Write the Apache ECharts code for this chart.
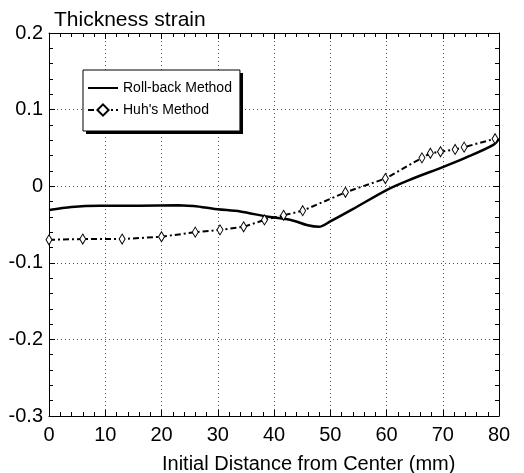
<!DOCTYPE html>
<html>
<head>
<meta charset="utf-8">
<script src="https://cdn.jsdelivr.net/npm/echarts@6/dist/echarts.min.js"></script>
<style>html,body{margin:0;padding:0;background:#fff}#c{width:524px;height:473px}</style>
</head>
<body>
<div id="c"></div>
<script>
const rollbackX = [0, 4, 9, 16, 23, 27, 30, 34, 39, 43, 46, 48, 50, 54, 60, 64, 70, 74, 79, 80];
const rollbackY = [-0.031, -0.027, -0.0255, -0.0255, -0.025, -0.027, -0.030, -0.033, -0.040, -0.044, -0.051, -0.053, -0.046, -0.030, -0.005, 0.008, 0.025, 0.037, 0.054, 0.062];
const huhX = [0, 6, 13, 20, 26, 30.4, 34.6, 38.3, 41.7, 45.1, 52.7, 59.8, 66.3, 67.8, 69.6, 72.2, 73.8, 79.3];
const huhY = [-0.070, -0.069, -0.069, -0.066, -0.060, -0.057, -0.053, -0.044, -0.038, -0.032, -0.008, 0.010, 0.037, 0.043, 0.045, 0.048, 0.051, 0.062];
const xTicks = [0, 10, 20, 30, 40, 50, 60, 70, 80];
const yTicks = [-0.3, -0.2, -0.1, 0, 0.1, 0.2];
const seriesNames = ['Roll-back Method', "Huh's Method"];
const titleText = 'Thickness strain';
const xName = 'Initial Distance from Center (mm)';

const FONT = '"Liberation Sans", Arial, sans-serif';
const pair = (xs, ys) => xs.map((x, i) => [x, ys[i]]);
const xMin = xTicks[0], xMax = xTicks[xTicks.length - 1];
const yMin = yTicks[0], yMax = yTicks[yTicks.length - 1];

const gridLine = { show: true, lineStyle: { color: '#555', type: [1, 3], width: 1 } };
const baseX = {
  type: 'value', min: xMin, max: xMax, interval: 10,
  axisLine: { show: true, onZero: false, lineStyle: { color: '#000', width: 1 } },
  axisTick: { show: true, inside: true, length: 6, lineStyle: { color: '#000' } },
  minorTick: { show: true, splitNumber: 5, length: 4, lineStyle: { color: '#000' } },
};
const baseY = {
  type: 'value', min: yMin, max: yMax, interval: 0.1,
  axisLine: { show: true, onZero: false, lineStyle: { color: '#000', width: 1 } },
  axisTick: { show: true, inside: true, length: 6, lineStyle: { color: '#000' } },
  minorTick: { show: true, splitNumber: 5, length: 4, lineStyle: { color: '#000' } },
};

const chart = echarts.init(document.getElementById('c'), null, { renderer: 'canvas' });
chart.setOption({
  animation: false,
  backgroundColor: '#fff',
  title: [
    { text: titleText, left: 49, top: 5, textStyle: { fontFamily: FONT, fontSize: 21, fontWeight: 'normal', color: '#000' } },
    { text: xName, left: 157, top: 449, textStyle: { fontFamily: FONT, fontSize: 20, fontWeight: 'normal', color: '#000' } }
  ],
  grid: { left: 49, right: 25, top: 33, bottom: 57, show: false },
  graphic: [
    { type: 'rect', z: 3, silent: true, shape: { x: 86, y: 73, width: 157, height: 61 }, style: { fill: '#000' } }
  ],
  legend: {
    orient: 'vertical', left: 83, top: 70, z: 5,
    padding: [11, 8, 14, 4], itemGap: 8, itemWidth: 30, itemHeight: 14,
    backgroundColor: '#fff', borderColor: '#000', borderWidth: 1,
    textStyle: { fontFamily: FONT, fontSize: 14, color: '#000' },
    data: [
      { name: seriesNames[0], itemStyle: { opacity: 0 } },
      { name: seriesNames[1] }
    ]
  },
  xAxis: [
    Object.assign({}, baseX, { position: 'bottom', splitLine: gridLine,
      axisLabel: { show: true, margin: 9, fontFamily: FONT, fontSize: 20, color: '#000' } }),
    Object.assign({}, baseX, { position: 'top', splitLine: { show: false }, axisLabel: { show: false } })
  ],
  yAxis: [
    Object.assign({}, baseY, { position: 'left', splitLine: gridLine,
      axisLabel: { show: true, margin: 6, fontFamily: FONT, fontSize: 20, color: '#000' } }),
    Object.assign({}, baseY, { position: 'right', splitLine: { show: false }, axisLabel: { show: false } })
  ],
  series: [
    {
      name: seriesNames[0], type: 'line', data: pair(rollbackX, rollbackY),
      symbol: 'none', smooth: 0.3,
      lineStyle: { color: '#000', width: 2.5 },
      itemStyle: { color: '#000' }
    },
    {
      name: seriesNames[1], type: 'line', data: pair(huhX, huhY),
      symbol: 'diamond', symbolSize: [6, 10], showSymbol: true,
      lineStyle: { color: '#000', width: 2, type: [6, 3, 2, 3] },
      itemStyle: { color: '#fff', borderColor: '#000', borderWidth: 1 }
    }
  ]
});
</script>
</body>
</html>
